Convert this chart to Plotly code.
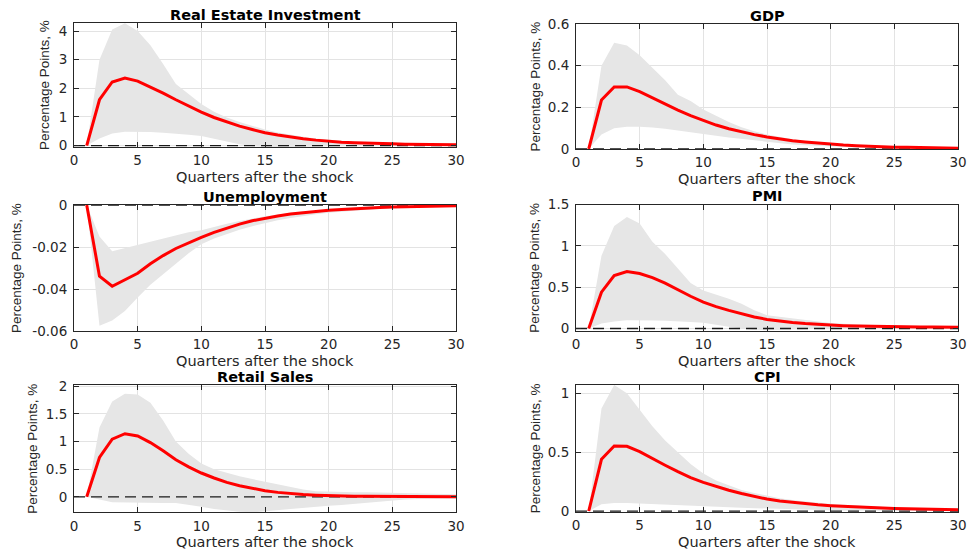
import plotly.graph_objects as go

quarters = list(range(1, 31))

titles = ["Real Estate Investment", "GDP", "Unemployment", "PMI", "Retail Sales", "CPI"]

re_med = [0, 1.6, 2.22, 2.36, 2.25, 2.05, 1.83, 1.6, 1.38, 1.17, 0.98, 0.82, 0.68, 0.56, 0.45,
          0.37, 0.30, 0.24, 0.19, 0.15, 0.12, 0.10, 0.08, 0.07, 0.06, 0.05, 0.04, 0.04, 0.03, 0.03]
re_up = [0, 3.0, 4.05, 4.27, 4.0, 3.5, 2.85, 2.15, 1.8, 1.45, 1.18, 0.98, 0.82, 0.68, 0.56,
         0.46, 0.38, 0.31, 0.25, 0.2, 0.17, 0.14, 0.12, 0.1, 0.09, 0.08, 0.07, 0.06, 0.05, 0.05]
re_lo = [0, 0.25, 0.42, 0.48, 0.48, 0.47, 0.45, 0.42, 0.38, 0.33, 0.25, 0.15, 0.05, -0.02, -0.05,
         -0.06, -0.06, -0.05, -0.03, -0.02, -0.01, 0.0, 0.0, 0.0, 0.0, 0.0, 0.0, 0.0, 0.0, 0.0]

gdp_med = [0, 0.235, 0.298, 0.298, 0.275, 0.245, 0.215, 0.187, 0.16, 0.137, 0.115, 0.097, 0.082, 0.069, 0.058,
           0.048, 0.04, 0.034, 0.028, 0.023, 0.019, 0.016, 0.013, 0.011, 0.009, 0.008, 0.007, 0.006, 0.005, 0.004]
gdp_up = [0, 0.40, 0.51, 0.497, 0.45, 0.39, 0.33, 0.26, 0.23, 0.19, 0.16, 0.13, 0.105, 0.085, 0.07,
          0.057, 0.047, 0.039, 0.032, 0.027, 0.022, 0.018, 0.015, 0.013, 0.011, 0.009, 0.008, 0.007, 0.006, 0.006]
gdp_lo = [0, 0.07, 0.10, 0.107, 0.107, 0.103, 0.097, 0.09, 0.082, 0.073, 0.064, 0.055, 0.047, 0.04, 0.035,
          0.028, 0.022, 0.018, 0.014, 0.011, 0.009, 0.007, 0.005, 0.004, 0.003, 0.002, 0.002, 0.001, 0.001, 0.001]

un_med = [0, -0.0339, -0.0387, -0.0357, -0.0325, -0.0280, -0.0241, -0.0207, -0.0179, -0.0154, -0.013, -0.011,
          -0.0091, -0.0075, -0.0062, -0.0052, -0.0043, -0.0036, -0.003, -0.0025, -0.0021, -0.0017, -0.0014,
          -0.0012, -0.001, -0.0008, -0.0007, -0.0006, -0.0005, -0.0004]
un_up = [0, -0.015, -0.022, -0.0205, -0.0187, -0.0172, -0.0157, -0.0143, -0.013, -0.012, -0.0103, -0.0089,
         -0.0076, -0.0064, -0.0054, -0.0045, -0.0037, -0.0031, -0.0026, -0.0021, -0.0017, -0.0014, -0.0011,
         -0.0009, -0.0007, -0.0006, -0.0005, -0.0004, -0.0003, -0.0002]
un_lo = [0, -0.0575, -0.055, -0.0505, -0.044, -0.038, -0.033, -0.028, -0.023, -0.0187, -0.016, -0.0138,
         -0.0118, -0.0101, -0.0086, -0.0073, -0.0062, -0.0052, -0.0044, -0.0037, -0.0031, -0.0026, -0.0022,
         -0.0018, -0.0015, -0.0013, -0.0011, -0.0009, -0.0008, -0.0007]

pmi_med = [0, 0.44, 0.64, 0.69, 0.665, 0.615, 0.55, 0.465, 0.39, 0.32, 0.265, 0.22, 0.18, 0.14, 0.11,
           0.09, 0.073, 0.06, 0.05, 0.042, 0.035, 0.03, 0.026, 0.023, 0.021, 0.019, 0.018, 0.017, 0.016, 0.015]
pmi_up = [0, 0.88, 1.24, 1.35, 1.27, 1.05, 0.9, 0.72, 0.55, 0.46, 0.41, 0.36, 0.3, 0.22, 0.16,
          0.14, 0.12, 0.1, 0.08, 0.068, 0.058, 0.05, 0.045, 0.04, 0.037, 0.034, 0.031, 0.029, 0.027, 0.025]
pmi_lo = [0, 0.06, 0.085, 0.1, 0.1, 0.098, 0.095, 0.09, 0.08, 0.07, 0.045, 0.02, 0.0, -0.015, -0.02,
          -0.02, -0.015, -0.01, -0.005, 0.0, 0.002, 0.002, 0.002, 0.002, 0.002, 0.002, 0.002, 0.002, 0.002, 0.002]

rs_med = [0, 0.71, 1.04, 1.14, 1.1, 0.98, 0.83, 0.67, 0.54, 0.43, 0.34, 0.26, 0.2, 0.15, 0.11,
          0.08, 0.055, 0.04, 0.03, 0.02, 0.015, 0.01, 0.008, 0.006, 0.005, 0.004, 0.003, 0.003, 0.002, 0.002]
rs_up = [0, 1.25, 1.72, 1.86, 1.85, 1.70, 1.38, 1.0, 0.78, 0.6, 0.5, 0.43, 0.37, 0.32, 0.27,
         0.22, 0.17, 0.13, 0.1, 0.09, 0.085, 0.08, 0.08, 0.075, 0.07, 0.065, 0.06, 0.055, 0.05, 0.045]
rs_lo = [0, -0.05, -0.1, -0.11, -0.11, -0.11, -0.11, -0.11, -0.14, -0.18, -0.22, -0.25, -0.27, -0.28, -0.27,
         -0.25, -0.22, -0.2, -0.18, -0.16, -0.15, -0.14, -0.12, -0.1, -0.07, -0.05, -0.04, -0.035, -0.03, -0.03]

cpi_med = [0, 0.44, 0.553, 0.55, 0.505, 0.445, 0.39, 0.335, 0.285, 0.245, 0.21, 0.178, 0.15, 0.125, 0.103,
           0.087, 0.074, 0.063, 0.054, 0.047, 0.041, 0.036, 0.031, 0.027, 0.023, 0.02, 0.018, 0.016, 0.014, 0.012]
cpi_up = [0, 0.87, 1.07, 1.0, 0.86, 0.72, 0.6, 0.5, 0.4, 0.32, 0.26, 0.22, 0.18, 0.155, 0.13,
          0.11, 0.095, 0.082, 0.071, 0.062, 0.054, 0.047, 0.041, 0.036, 0.032, 0.028, 0.025, 0.022, 0.02, 0.018]
cpi_lo = [0, 0.06, 0.07, 0.07, 0.068, 0.065, 0.06, 0.055, 0.05, 0.045, 0.04, 0.035, 0.03, 0.026, 0.022,
          0.018, 0.015, 0.012, 0.01, 0.008, 0.006, 0.005, 0.004, 0.003, 0.003, 0.002, 0.002, 0.001, 0.001, 0.001]

medians = [re_med, gdp_med, un_med, pmi_med, rs_med, cpi_med]
uppers = [re_up, gdp_up, un_up, pmi_up, rs_up, cpi_up]
lowers = [re_lo, gdp_lo, un_lo, pmi_lo, rs_lo, cpi_lo]

ytick_vals = [[0, 1, 2, 3, 4], [0, 0.2, 0.4, 0.6], [0, -0.02, -0.04, -0.06],
              [0, 0.5, 1, 1.5], [0, 0.5, 1, 1.5, 2], [0, 0.5, 1]]
ytick_text = [["0", "1", "2", "3", "4"], ["0", "0.2", "0.4", "0.6"], ["0", "-0.02", "-0.04", "-0.06"],
              ["0", "0.5", "1", "1.5"], ["0", "0.5", "1", "1.5", "2"], ["0", "0.5", "1"]]
y_ranges = [[-0.05, 4.28], [0, 0.6], [-0.06, 0], [-0.03, 1.5], [-0.28, 2.02], [-0.004, 1.07]]
xtick_vals = [0, 5, 10, 15, 20, 25, 30]
xtick_text = ["0", "5", "10", "15", "20", "25", "30"]
x_label = "Quarters after the shock"
y_label = "Percentage Points, %"

W, H = 969, 554
# pixel boxes (left, right, top, bottom) and y-label centre x
boxes = [(74, 456, 23, 147), (576, 958, 24, 149),
         (74, 456, 205, 331), (576, 958, 204.5, 331),
         (74, 456, 385, 512.3), (576, 958, 385, 511.7)]
ylab_x = [45, 535, 16, 535, 33, 535]

AX = "#262626"
GRID = "#e3e3e3"
WIDE = "DejaVu Sans, Verdana, sans-serif"
NARROW = "Liberation Sans, Arial, sans-serif"
fig = go.Figure()
layout = dict(width=W, height=H, margin=dict(l=0, r=0, t=0, b=0, pad=0, autoexpand=False),
              paper_bgcolor="white", plot_bgcolor="white", showlegend=False,
              font=dict(family=WIDE, color=AX, size=13))
annotations = []
for i in range(6):
    l, r, t, b = boxes[i]
    xa = "x" if i == 0 else f"x{i+1}"
    ya = "y" if i == 0 else f"y{i+1}"
    xk = "xaxis" if i == 0 else f"xaxis{i+1}"
    yk = "yaxis" if i == 0 else f"yaxis{i+1}"
    band_x = quarters + quarters[::-1]
    band_y = uppers[i] + lowers[i][::-1]
    fig.add_trace(go.Scatter(x=band_x, y=band_y, fill="toself", fillcolor="#e6e6e6",
                             line=dict(width=0, color="#e6e6e6"), mode="lines",
                             xaxis=xa, yaxis=ya, hoverinfo="skip"))
    fig.add_trace(go.Scatter(x=[xtick_vals[0], xtick_vals[-1]], y=[0, 0], mode="lines",
                             line=dict(color="#1a1a1a", width=1.3, dash="11px,6px"),
                             xaxis=xa, yaxis=ya, hoverinfo="skip"))
    fig.add_trace(go.Scatter(x=quarters, y=medians[i], mode="lines",
                             line=dict(color="#ff0000", width=3),
                             xaxis=xa, yaxis=ya))
    layout[xk] = dict(domain=[l / W, r / W], range=[0, 30], anchor=ya,
                      tickvals=xtick_vals, ticktext=xtick_text, ticks="inside", ticklen=5,
                      tickcolor=AX, showline=True, linecolor=AX, linewidth=1, mirror="ticks",
                      showgrid=True, gridcolor=GRID, gridwidth=1, zeroline=False,
                      tickfont=dict(size=13.5, color=AX, family=WIDE), ticklabelstandoff=1)
    layout[yk] = dict(domain=[1 - b / H, 1 - t / H], range=y_ranges[i], anchor=xa,
                      tickvals=ytick_vals[i], ticktext=ytick_text[i], ticks="inside", ticklen=5,
                      tickcolor=AX, showline=True, linecolor=AX, linewidth=1, mirror="ticks",
                      showgrid=True, gridcolor=GRID, gridwidth=1, zeroline=False,
                      tickfont=dict(size=13.5, color=AX, family=WIDE), ticklabelstandoff=3)
    cx = (l + r) / 2 / W
    annotations.append(dict(text="<b>" + titles[i] + "</b>", x=cx, y=1 - (t - 8.5) / H,
                            xref="paper", yref="paper", xanchor="center", yanchor="middle",
                            height=15, showarrow=False,
                            font=dict(size=14.5, color="black", family=WIDE)))
    annotations.append(dict(text=x_label, x=cx, y=1 - (b + 29.5) / H,
                            xref="paper", yref="paper", xanchor="center", yanchor="middle",
                            height=15, showarrow=False,
                            font=dict(size=14.5, color=AX, family=WIDE)))
    annotations.append(dict(text=y_label, x=ylab_x[i] / W, y=1 - (t + b) / 2 / H,
                            xref="paper", yref="paper", xanchor="center", yanchor="middle",
                            textangle=-90, showarrow=False, font=dict(size=13.5, color=AX, family=NARROW)))
layout["annotations"] = annotations
fig.update_layout(**layout)
fig.write_html("out.html", config={"displayModeBar": False},
               post_script="document.body.style.margin='0';document.body.style.overflow='hidden';")
